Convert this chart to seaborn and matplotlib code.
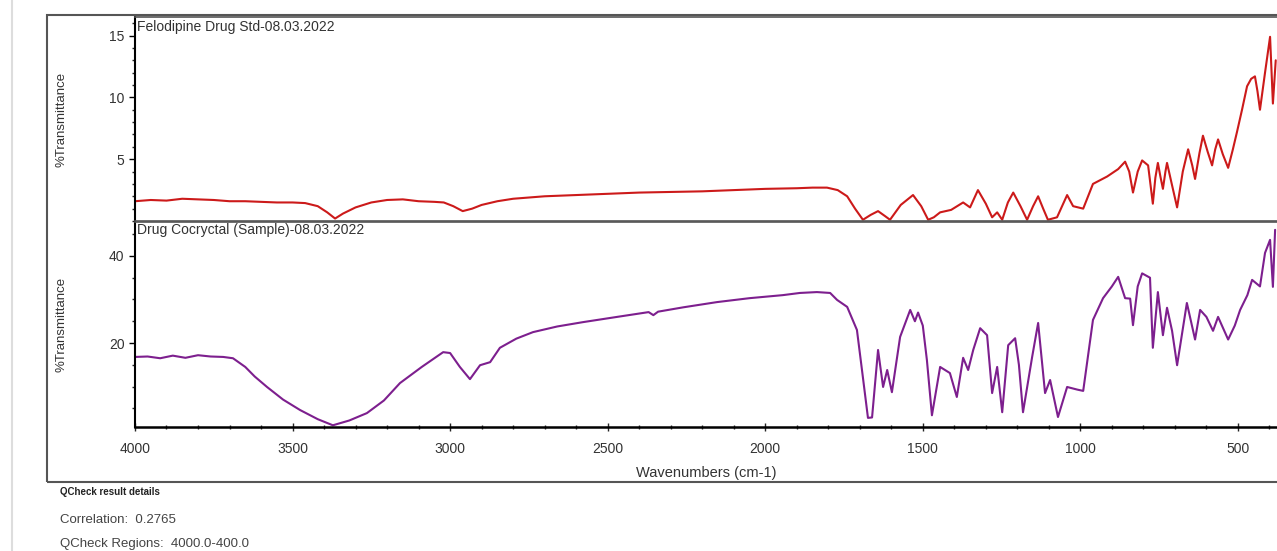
import matplotlib
matplotlib.use("Agg")
import matplotlib.pyplot as plt
from matplotlib.patches import Rectangle
from matplotlib.lines import Line2D
from matplotlib.ticker import MultipleLocator
import pandas as pd
import seaborn as sns

sns.set_style("white")
plt.rcParams["font.family"] = ["Liberation Sans", "DejaVu Sans"]

# Felodipine standard (red)
std_wn = [4000, 3950, 3900, 3850, 3800, 3750, 3700, 3650, 3600, 3550, 3500, 3460, 3420, 3390,
          3365, 3340, 3300, 3250, 3200, 3150, 3100, 3050, 3020, 2990, 2960, 2930, 2900, 2850,
          2800, 2700, 2600, 2500, 2400, 2300, 2200, 2100, 2000, 1900, 1850, 1804, 1770, 1740,
          1715, 1690, 1665, 1642, 1620, 1604, 1570, 1531, 1505, 1483, 1465, 1445, 1410, 1372,
          1350, 1325, 1300, 1280, 1264, 1248, 1230, 1213, 1190, 1169, 1150, 1134, 1118, 1103,
          1074, 1042, 1023, 991, 960, 915, 880, 858, 845, 833, 818, 804, 785, 770, 762, 754,
          746, 738, 730, 725, 710, 693, 675, 658, 645, 636, 622, 611, 596, 582, 572, 563, 548,
          531, 516, 503, 487, 471, 458, 446, 438, 430, 414, 398, 389, 380]
std_t = [1.6, 1.7, 1.65, 1.8, 1.75, 1.7, 1.6, 1.6, 1.55, 1.5, 1.5, 1.45, 1.2, 0.7,
         0.2, 0.6, 1.1, 1.5, 1.7, 1.75, 1.6, 1.55, 1.5, 1.2, 0.8, 1.0, 1.3, 1.6,
         1.8, 2.0, 2.1, 2.2, 2.3, 2.35, 2.4, 2.5, 2.6, 2.65, 2.7, 2.7, 2.5, 2.0,
         1.0, 0.1, 0.5, 0.8, 0.4, 0.1, 1.3, 2.1, 1.2, 0.1, 0.3, 0.7, 0.9, 1.5,
         1.1, 2.5, 1.4, 0.3, 0.7, 0.1, 1.5, 2.3, 1.2, 0.1, 1.2, 2.0, 1.0, 0.1,
         0.3, 2.1, 1.2, 1.0, 3.0, 3.6, 4.2, 4.8, 4.0, 2.3, 4.0, 4.9, 4.5, 1.4, 3.5, 4.7,
         3.6, 2.6, 4.0, 4.7, 3.0, 1.1, 4.0, 5.8, 4.5, 3.4, 5.5, 6.9, 5.6, 4.5, 5.8, 6.6, 5.4,
         4.3, 5.8, 7.2, 9.0, 10.9, 11.5, 11.7, 10.5, 9.0, 12.0, 14.9, 9.5, 13.0]

# Drug cocrystal sample (purple)
smp_wn = [4000, 3960, 3920, 3880, 3840, 3800, 3760, 3720, 3689, 3650, 3620, 3581, 3530, 3476,
          3420, 3372, 3320, 3264, 3210, 3159, 3090, 3022, 3000, 2969, 2937, 2905, 2873, 2842,
          2790, 2737, 2660, 2578, 2470, 2370, 2355, 2340, 2260, 2153, 2050, 1944, 1890, 1836,
          1794, 1772, 1740, 1709, 1693, 1674, 1661, 1642, 1626, 1613, 1598, 1572, 1540, 1525,
          1515, 1500, 1487, 1471, 1445, 1414, 1392, 1372, 1356, 1340, 1318, 1296, 1280, 1264,
          1248, 1229, 1207, 1195, 1182, 1153, 1134, 1112, 1096, 1071, 1042, 1010, 991, 960,
          928, 900, 880, 858, 842, 833, 818, 804, 779, 770, 754, 738, 725, 709, 693, 662, 636,
          620, 600, 579, 563, 531, 510, 493, 470, 455, 430, 414, 398, 389, 382]
smp_t = [16.8, 16.9, 16.5, 17.1, 16.6, 17.2, 16.9, 16.8, 16.5, 14.5, 12.3, 9.9, 7.0, 4.6,
         2.5, 1.1, 2.2, 3.9, 6.8, 10.8, 14.5, 17.9, 17.7, 14.5, 11.7, 14.9, 15.6, 18.9,
         21.0, 22.5, 23.8, 24.8, 26.0, 27.1, 26.4, 27.2, 28.2, 29.4, 30.3, 31.0, 31.5, 31.7,
         31.5, 29.9, 28.3, 23.0, 13.8, 2.8, 2.9, 18.4, 9.9, 13.8, 8.7, 21.4, 27.6, 25.0,
         27.0, 24.0, 16.1, 3.4, 14.5, 13.1, 7.6, 16.6, 13.8, 18.4, 23.4, 21.8, 8.5, 14.5,
         4.1, 19.5, 21.1, 15.0, 4.1, 16.8, 24.6, 8.5, 11.5, 3.0, 9.9, 9.3, 9.0, 25.3,
         30.3, 33.0, 35.2, 30.3, 30.2, 24.1, 33.0, 36.0, 35.0, 18.9, 31.7, 21.8, 28.1, 22.8,
         14.9, 29.2, 20.8, 27.6, 26.0, 22.8, 26.0, 20.8, 24.0, 27.6, 31.0, 34.5, 33.0, 40.7,
         43.7, 32.9, 46.0]

std_label = "Felodipine Drug Std-08.03.2022"
smp_label = "Drug Cocryctal (Sample)-08.03.2022"
x_label = "Wavenumbers (cm-1)"
y_label = "%Transmittance"
x_ticks = [4000, 3500, 3000, 2500, 2000, 1500, 1000, 500]

df_std = pd.DataFrame({"wn": std_wn, "t": std_t})
df_smp = pd.DataFrame({"wn": smp_wn, "t": smp_t})

fig = plt.figure(figsize=(12.77, 5.51), dpi=100)
ax1 = fig.add_axes([0.1057, 0.5989, 0.8943, 0.3702])
ax2 = fig.add_axes([0.1057, 0.2250, 0.8943, 0.3721])

sns.lineplot(data=df_std, x="wn", y="t", ax=ax1, color="#cc1a1a", linewidth=1.5)
sns.lineplot(data=df_smp, x="wn", y="t", ax=ax2, color="#7d1f8e", linewidth=1.5)

for ax in (ax1, ax2):
    ax.set_xlim(4000, 376)
    ax.set_xlabel("")
    ax.set_ylabel(y_label, fontsize=9.5, color="#333333", labelpad=30)
    for s in ("top", "bottom"):
        ax.spines[s].set_color("#555555")
        ax.spines[s].set_linewidth(1.2)
    ax.spines["right"].set_visible(False)
    ax.spines["left"].set_color("black")
    ax.spines["left"].set_linewidth(1.5)
    ax.tick_params(axis="y", which="major", direction="out", length=4, width=1,
                   labelsize=10, colors="black", labelcolor="#333333", left=True)
    ax.tick_params(axis="y", which="minor", direction="out", length=2, width=1, left=True)

ax1.set_ylim(0, 16.5)
ax1.set_yticks([5, 10, 15])
ax1.yaxis.set_minor_locator(MultipleLocator(1))
ax1.set_xticks([])
ax1.text(0.002, 0.985, std_label, transform=ax1.transAxes, ha="left", va="top",
         fontsize=10, color="#333333")

ax2.set_ylim(0.7, 47.8)
ax2.set_yticks([20, 40])
ax2.yaxis.set_minor_locator(MultipleLocator(5))
ax2.set_xticks(x_ticks)
ax2.set_xticklabels([str(v) for v in x_ticks])
ax2.xaxis.set_minor_locator(MultipleLocator(100))
ax2.spines["bottom"].set_color("black")
ax2.spines["bottom"].set_linewidth(1.8)
ax2.tick_params(axis="x", which="major", direction="inout", length=6, width=1,
                labelsize=10, labelcolor="#333333", bottom=True, pad=8)
ax2.tick_params(axis="x", which="minor", direction="inout", length=3, width=1, bottom=True)
ax2.text(0.002, 0.995, smp_label, transform=ax2.transAxes, ha="left", va="top",
         fontsize=10, color="#333333")
ax2.set_xlabel(x_label, fontsize=10.5, color="#333333", labelpad=7)

# outer frame of the report plot and the page edge
fig.patches.append(Rectangle((47 / 1277, 1 - 482 / 551), 1.0, (482 - 15) / 551,
                             transform=fig.transFigure, fill=False,
                             edgecolor="#555555", linewidth=1.5))
fig.add_artist(Line2D([12 / 1277, 12 / 1277], [0, 1], transform=fig.transFigure,
                      color="#dddddd", linewidth=1.5))

fig.text(60 / 1277, 1 - 492 / 551, "QCheck result details", fontsize=7,
         fontweight="bold", color="#222222", va="center")
fig.text(60 / 1277, 1 - 520 / 551, "Correlation:  0.2765", fontsize=9.5,
         color="#444444", va="center")
fig.text(60 / 1277, 1 - 544 / 551, "QCheck Regions:  4000.0-400.0", fontsize=9.5,
         color="#444444", va="center")

fig.savefig("out.png", dpi=100)
